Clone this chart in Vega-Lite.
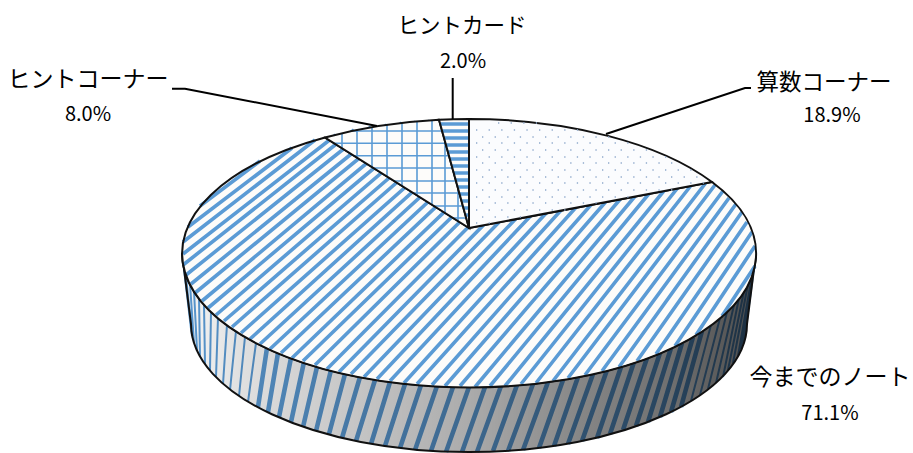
{"$schema":"https://vega.github.io/schema/vega-lite/v6.json","width":913,"height":453,"padding":0,"autosize":{"type":"none"},"background":"#ffffff","config":{"view":{"stroke":null},"axis":{"disable":true},"mark":{"opacity":1},"point":{"size":4,"filled":false,"opacity":1},"text":{"font":"Noto Sans CJK JP","align":"center","baseline":"middle","color":"#000000"}},"data":{"values":[{"name":"算数コーナー","share":18.9},{"name":"今までのノート","share":71.1},{"name":"ヒントコーナー","share":8.0},{"name":"ヒントカード","share":2.0}]},"transform":[{"calculate":"format(datum.share,'.1f')+'%'","as":"pct"}],"encoding":{"x":{"datum":0,"scale":{"domain":[0,913],"nice":false,"zero":false}},"y":{"datum":0,"scale":{"domain":[453,0],"nice":false,"zero":false}}},"layer":[
{"transform":[{"filter":"datum.share==71.1"}],"mark":{"type":"point","filled":true,"fill":"#ffffff","shape":"M182 253A287 134 0 0 0 756 253L747 324A278 128 0 0 1 191 324Z"}},
{"transform":[{"filter":"datum.share==71.1"}],"mark":{"type":"point","stroke":"#5b9bd5","strokeWidth":4.6,"shape":"M267 348L258 407M278 353L268 412M291 358L279 417M304 362L291 422M317 367L303 427M331 370L316 431M345 374L329 434M360 377L342 438M375 380L356 441M390 382L371 444M405 384L385 446M421 385L400 448M437 386L415 450M453 387L431 451M469 387L446 452M485 387L462 452M501 386L477 452M517 385L493 451M533 384L508 451M548 382L523 450M563 380L539 448M578 377L554 446M593 374L568 444M607 370L582 441M621 367L597 438M634 362L610 434M647 358L623 430M660 353L636 426M671 348L648 422M682 343L660 417M693 337L671 412M702 331L681 407"}},
{"transform":[{"filter":"datum.share==71.1"}],"mark":{"type":"point","stroke":"#5b9bd5","strokeWidth":2,"shape":"M183 261L191 322M184 269L191 329M186 276L192 336M190 284L194 343M194 291L197 350M199 298L200 357M204 305L205 364M211 312L210 370M218 318L216 377M227 325L223 384M236 331L230 390M245 337L239 396M256 343L248 402M711 325L691 401M720 318L700 395M727 312L708 389M734 305L716 383M739 298L723 377M744 291L728 370M748 284L733 363M752 276L738 356M754 269L741 349M755 261L744 342"}},
{"transform":[{"filter":"datum.share==71.1"}],"mark":{"type":"point","filled":true,"strokeWidth":2,"stroke":"#111111","fill":{"gradient":"linear","x1":0,"y1":0,"x2":1,"y2":0,"stops":[{"offset":0,"color":"rgba(0,0,0,0.03)"},{"offset":0.1,"color":"rgba(0,0,0,0.12)"},{"offset":0.25,"color":"rgba(0,0,0,0.2)"},{"offset":0.5,"color":"rgba(0,0,0,0.33)"},{"offset":0.7,"color":"rgba(0,0,0,0.48)"},{"offset":0.85,"color":"rgba(0,0,0,0.56)"},{"offset":1,"color":"rgba(0,0,0,0.7)"}]},"shape":"M182 253A287 134 0 0 0 756 253L747 324A278 128 0 0 1 191 324Z"}},
{"transform":[{"filter":"datum.share==71.1"}],"mark":{"type":"point","filled":true,"fill":"#fdfcfa","shape":"M182 253A287 134 0 1 1 756 253A287 134 0 1 1 182 253Z"}},
{"transform":[{"filter":"datum.share==71.1"}],"mark":{"type":"point","stroke":"#5b9bd5","strokeWidth":3.6,"shape":"M260 161L200 206M292 148L188 227M315 140L183 242M336 135L183 254M354 130L183 265M371 127L186 275M387 125L191 284M402 123L195 293M416 122L202 301M430 121L208 308M443 120L216 315M456 120L224 321M468 120L232 327M481 120L241 333M492 120L250 339M503 121L260 344M515 121L270 349M526 122L281 353M537 123L292 358M547 125L303 361M557 126L315 365M567 128L327 369M577 130L339 372M587 132L351 374M597 134L364 377M606 136L377 379M616 138L390 381M624 141L404 383M633 144L417 384M642 147L432 385M651 150L445 386M659 154L460 386M668 157L475 387M676 161L490 386M685 165L505 386M692 170L521 384M700 174L536 383M708 180L553 381M715 185L568 378M723 191L585 375M729 198L602 371M736 204L619 367M742 212L637 361M747 222L656 354M752 232L675 346M755 246L696 335M755 266L722 316"}},
{"transform":[{"filter":"datum.share==71.1"}],"mark":{"type":"point","strokeWidth":2,"stroke":"#111111","shape":"M469 228L325 137.5A287 134 0 1 0 712 182Z"}},
{"transform":[{"filter":"datum.share==18.9"}],"mark":{"type":"point","filled":true,"fill":"#fbfcfe","strokeWidth":2,"stroke":"#111111","shape":"M469 228L469 119A287 134 0 0 1 712 182Z"}},
{"transform":[{"filter":"datum.share==18.9"}],"mark":{"type":"point","stroke":"#8fa9cc","strokeWidth":1.3,"strokeDash":[1.3,11.3],"shape":"M498 123H539M476 130H583M482 137H612M476 143H633M482 150H652M476 157H669M482 163H682M476 170H694M482 177H705M476 183H708M482 190H674M476 197H637M482 203H604M476 210H566M482 217H529M476 223H496"}},
{"transform":[{"filter":"datum.share==8"}],"mark":{"type":"point","filled":true,"fill":"#fdfcfa","shape":"M469 228L325 137.5A287 134 0 0 1 439 119.7Z"}},
{"transform":[{"filter":"datum.share==8"}],"mark":{"type":"point","stroke":"#5b9bd5","strokeWidth":1.6,"shape":"M350 131H442M334 143.3H445.5M354 155.7H449M373.5 168H452.4M394 181H456M413 193H459.3M434 206H463M453 218H466M342 133V148M357 129.6V157.6M372 127V167M387 124.6V176.5M402 123V186M417 121V195M432 120V204.7M445 141V213M458 188V221"}},
{"transform":[{"filter":"datum.share==8"}],"mark":{"type":"point","strokeWidth":2,"stroke":"#111111","shape":"M469 228L325 137.5A287 134 0 0 1 439 119.7Z"}},
{"transform":[{"filter":"datum.share==2"}],"mark":{"type":"point","filled":true,"fill":"#fdfcfa","shape":"M469 228L439 119.7A287 134 0 0 1 469 119Z"}},
{"transform":[{"filter":"datum.share==2"}],"mark":{"type":"point","stroke":"#5b9bd5","strokeWidth":3.5,"shape":"M440.2 124H468M442.1 131H468M444.1 138H468M446 145H468M448 152H468M450 159H468M452 166H468M454 173H468M455.7 180H468M457.6 187H468M459.6 194H468M461.5 201H468M463.5 208H468M465.4 215H468"}},
{"transform":[{"filter":"datum.share==2"}],"mark":{"type":"point","strokeWidth":2,"stroke":"#111111","shape":"M469 228L439 119.7A287 134 0 0 1 469 119Z"}},
{"transform":[{"filter":"datum.share==2"}],"mark":{"type":"point","strokeWidth":2,"stroke":"#000000","shape":"M452.7 78V119"}},
{"transform":[{"filter":"datum.share==8"}],"mark":{"type":"point","strokeWidth":2,"stroke":"#000000","shape":"M172 88.7H185L377 126"}},
{"transform":[{"filter":"datum.share==18.9"}],"mark":{"type":"point","strokeWidth":2,"stroke":"#000000","shape":"M606 134L745 88H751"}},
{"transform":[{"filter":"datum.share==2"}],"mark":{"type":"text","fontSize":21.5},"encoding":{"x":{"datum":462},"y":{"datum":27},"text":{"field":"name"}}},
{"transform":[{"filter":"datum.share==2"}],"mark":{"type":"text","fontSize":20},"encoding":{"x":{"datum":463},"y":{"datum":62},"text":{"field":"pct"}}},
{"transform":[{"filter":"datum.share==8"}],"mark":{"type":"text","fontSize":23},"encoding":{"x":{"datum":88},"y":{"datum":80},"text":{"field":"name"}}},
{"transform":[{"filter":"datum.share==8"}],"mark":{"type":"text","fontSize":20},"encoding":{"x":{"datum":88},"y":{"datum":115},"text":{"field":"pct"}}},
{"transform":[{"filter":"datum.share==18.9"}],"mark":{"type":"text","fontSize":22.5},"encoding":{"x":{"datum":824},"y":{"datum":83},"text":{"field":"name"}}},
{"transform":[{"filter":"datum.share==18.9"}],"mark":{"type":"text","fontSize":20},"encoding":{"x":{"datum":832},"y":{"datum":116},"text":{"field":"pct"}}},
{"transform":[{"filter":"datum.share==71.1"}],"mark":{"type":"text","fontSize":23},"encoding":{"x":{"datum":830},"y":{"datum":378},"text":{"field":"name"}}},
{"transform":[{"filter":"datum.share==71.1"}],"mark":{"type":"text","fontSize":20},"encoding":{"x":{"datum":830},"y":{"datum":414},"text":{"field":"pct"}}}
]}
